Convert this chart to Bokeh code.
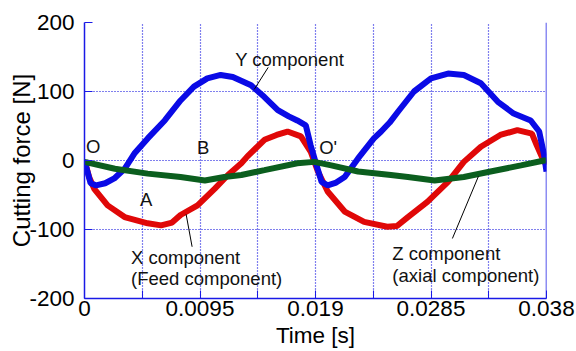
from bokeh.plotting import figure
from bokeh.models import (FixedTicker, CustomJSTickFormatter, Label, Span, Range1d)
from bokeh.embed import file_html
from bokeh.resources import INLINE

# ---- data ----
t_y = [0, 0.0005, 0.00095, 0.0017, 0.00245, 0.0033, 0.0041, 0.0052, 0.0066, 0.0079,
       0.009, 0.0101, 0.0112, 0.0122, 0.0137, 0.0148, 0.0159, 0.0168, 0.0175, 0.0182,
       0.0186, 0.019, 0.0195, 0.0200, 0.0207, 0.0214, 0.0225, 0.0238, 0.0244, 0.0251,
       0.0258, 0.0271, 0.0285, 0.0299, 0.0312, 0.0326, 0.034, 0.0353, 0.0367, 0.0374,
       0.0378, 0.038]
f_y = [0, -33, -36, -33, -26, -12, 10, 32, 58, 87,
       107, 119, 124, 121, 109, 92, 73, 64, 58, 51,
       22, -2, -31, -36, -32, -24, 3, 32, 42, 55,
       71, 100, 119, 126, 124, 112, 85, 68, 58, 42,
       8, -16]

t_x = [0, 0.0004, 0.0008, 0.0019, 0.0033, 0.0052, 0.0063, 0.0072, 0.0079, 0.0093,
       0.0107, 0.0118, 0.0129, 0.0134, 0.0148, 0.0158, 0.0167, 0.0178, 0.0186, 0.0192,
       0.0200, 0.0214, 0.0230, 0.0249, 0.0257, 0.0266, 0.0282, 0.0299, 0.0312, 0.0326,
       0.0342, 0.0356, 0.0368, 0.0372, 0.0378, 0.038]
f_x = [0, -25, -41, -65, -82, -91, -94, -90, -79, -65,
       -41, -21, -4, 6, 30, 37, 42, 35, 13, -16,
       -45, -74, -89, -96, -95, -82, -60, -31, -2, 20,
       37, 44, 39, 22, -2, -6]

t_z = [0, 0.0025, 0.0052, 0.0079, 0.0099, 0.0115, 0.0129, 0.0148, 0.0175, 0.0189,
       0.0203, 0.0225, 0.0252, 0.0266, 0.0288, 0.0312, 0.0334, 0.0359, 0.0378, 0.038]
f_z = [-2, -12, -19, -24, -29, -24, -21, -14, -4, -2,
       -7, -16, -21, -24, -29, -24, -16, -7, 0, 0]

x_ticks = [0, 0.0095, 0.019, 0.0285, 0.038]
x_minor = [0.00475, 0.01425, 0.02375, 0.03325]
y_ticks = [-200, -100, 0, 100, 200]

# annotation texts and anchor positions (data units)
ann_text = ["Y component", "O", "B", "O'", "A", "X component", "(Feed component)",
            "Z component", "(axial component)"]
ann_x = [0.01239, 0.00012, 0.00926, 0.0193, 0.00457, 0.00383, 0.00383, 0.02532, 0.02532]
ann_y = [146, 20, 19, 19, -57, -141, -171, -135, -167]
lead_x0 = [0.01511, 0.00836, 0.0324]
lead_y0 = [135, -78, -23]
lead_x1 = [0.01396, 0.00885, 0.03026]
lead_y1 = [103, -125, -113]

FONT = "Liberation Sans"
BLUE_AX = "#1a1ae6"

p = figure(width=576, height=351, output_backend="svg", toolbar_location=None,
           x_range=Range1d(0, 0.038), y_range=Range1d(-200, 200),
           min_border_left=84, min_border_right=30, min_border_top=22, min_border_bottom=53)
p.outline_line_color = None
p.background_fill_color = "white"

# grids
p.xgrid.ticker = FixedTicker(ticks=x_ticks + x_minor)
p.ygrid.ticker = FixedTicker(ticks=y_ticks)
for g in (p.xgrid, p.ygrid):
    g.grid_line_color = "#0000dd"
    g.grid_line_dash = "1 2"
    g.grid_line_width = 1.2

# axes
xa = p.xaxis[0]
xa.ticker = FixedTicker(ticks=x_ticks, minor_ticks=x_minor)
xa.formatter = CustomJSTickFormatter(code="return String(+tick.toFixed(4));")
xa.axis_label = "Time [s]"
ya = p.yaxis[0]
ya.ticker = FixedTicker(ticks=y_ticks)
ya.formatter = CustomJSTickFormatter(code="return String(tick);")
ya.axis_label = "Cutting force [N]"
for a in (xa, ya):
    a.axis_line_color = BLUE_AX
    a.axis_line_width = 1.5
    a.major_tick_line_color = BLUE_AX
    a.minor_tick_line_color = BLUE_AX
    a.major_tick_in = 8
    a.major_tick_out = 0
    a.minor_tick_in = 8
    a.minor_tick_out = 0
    a.major_label_text_font = FONT
    a.major_label_text_font_size = "22.5px"
    a.major_label_text_color = "black"
    a.axis_label_text_font = FONT
    a.axis_label_text_font_size = "22.5px"
    a.axis_label_text_font_style = "normal"
    a.axis_label_text_color = "black"
ya.axis_label_text_font_size = "24px"
xa.major_label_standoff = 2
xa.axis_label_standoff = 4
ya.major_label_standoff = 10
ya.axis_label_standoff = -9

# right frame edge
p.add_layout(Span(location=0.038, dimension="height", line_color=BLUE_AX, line_width=1.5))

# curves
p.line(t_x, f_x, line_color="#e00808", line_width=6)
p.line(t_y, f_y, line_color="#0a0ae6", line_width=6)
p.line(t_z, f_z, line_color="#0b5e1e", line_width=6)

# annotations
p.segment(lead_x0, lead_y0, lead_x1, lead_y1, line_color="black", line_width=1)
for txt, ax_, ay_ in zip(ann_text, ann_x, ann_y):
    p.add_layout(Label(x=ax_, y=ay_, text=txt, text_font=FONT, text_font_size="18.5px",
                       text_baseline="middle", text_align="left", text_color="#111111"))

open("out.html", "w").write(file_html(p, INLINE))
